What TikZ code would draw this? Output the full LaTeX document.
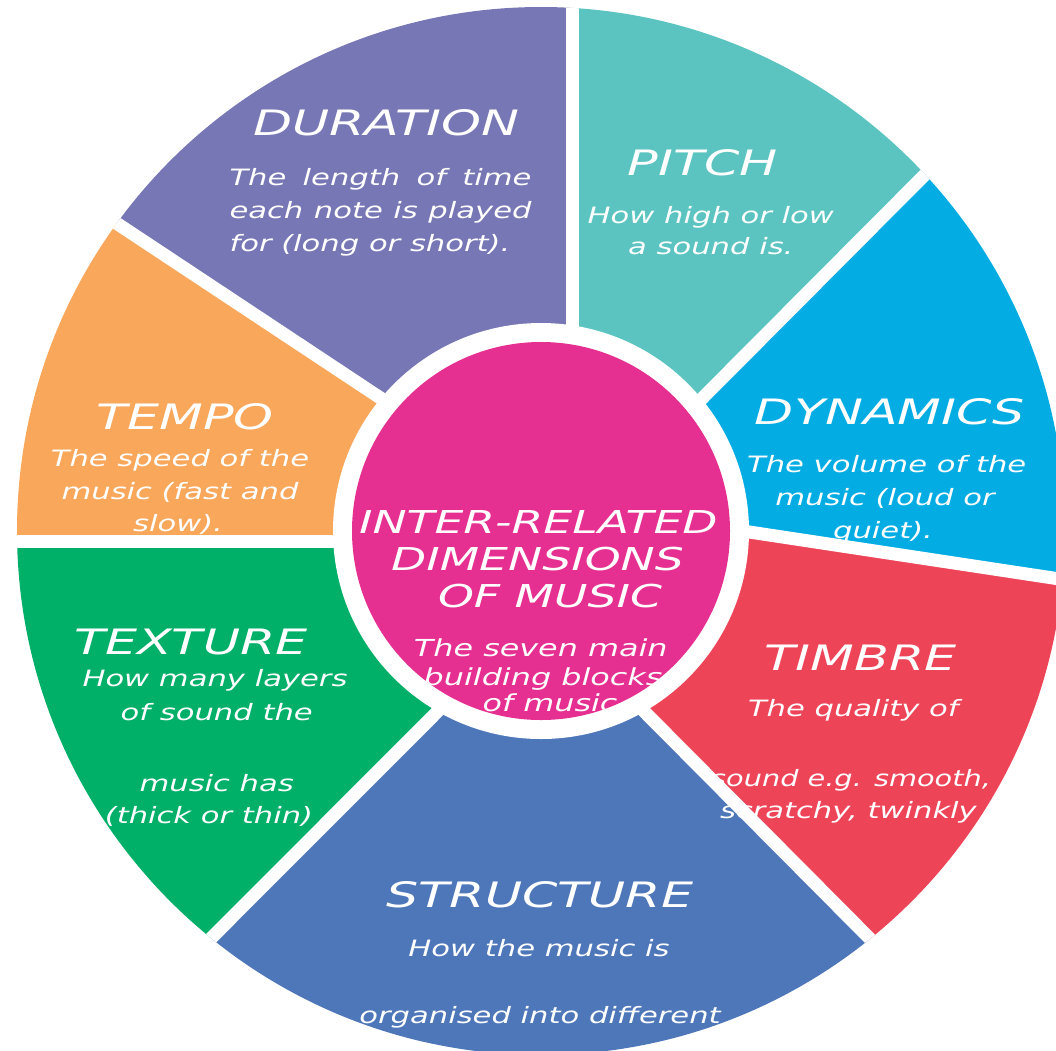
\documentclass[tikz,border=0pt]{standalone}
\usepackage{fontspec}
\newfontfamily\lbl[FakeStretch=1.45]{DejaVu Sans}
\newfontfamily\lblb[FakeStretch=1.36]{DejaVu Sans}
\usetikzlibrary{calc}

\definecolor{durationc}{HTML}{7777B6}
\definecolor{pitchc}{HTML}{5BC4C1}
\definecolor{dynamicsc}{HTML}{04ACE4}
\definecolor{timbrec}{HTML}{EE4458}
\definecolor{structurec}{HTML}{4E77BA}
\definecolor{texturec}{HTML}{00AF68}
\definecolor{tempoc}{HTML}{F9A75B}
\definecolor{hubc}{HTML}{E63091}

\tikzset{
  gapline/.style={draw=white, line width=13pt},
  title/.style={text=white, inner sep=0pt, anchor=base,
    font=\lbl\itshape\fontsize{35}{41}\selectfont},
  body/.style={text=white, inner sep=0pt, anchor=base,
    font=\lblb\itshape\fontsize{22.5}{27}\selectfont},
  hubtitle/.style={text=white, inner sep=0pt, anchor=base,
    font=\lbl\itshape\fontsize{31.5}{37}\selectfont},
  hubbody/.style={text=white, inner sep=0pt, anchor=base,
    font=\lblb\itshape\fontsize{23.4}{28}\selectfont},
}

\begin{document}
\begin{tikzpicture}[x=1pt,y=-1pt]
\useasboundingbox (0,0) rectangle (1056,1050);
\clip (0,0) rectangle (1056,1050);

\coordinate (c) at (541,531);
% dividing lines: inner end (hidden under the ring) and far end (outside the wheel)
\coordinate (g1i) at (572.5,531);   \coordinate (g1o) at (572.5,-269);
\coordinate (g2i) at (576.5,524.6); \coordinate (g2o) at (1141,-42.4);
\coordinate (g3i) at (551.3,502);   \coordinate (g3o) at (1391.7,629.3);
\coordinate (g4i) at (539.5,606.1); \coordinate (g4o) at (1103.3,1173.6);
\coordinate (g5i) at (542,606.9);   \coordinate (g5o) at (-23.4,1173);
\coordinate (g6i) at (541,541.7);   \coordinate (g6o) at (-259,541.7);
\coordinate (g7i) at (512.4,485.4); \coordinate (g7o) at (-154.6,43.6);

\begin{scope}
  \clip (c) circle[radius=524pt];

  % coloured segments
  \fill[durationc]  (g7i) -- (g7o) -- (g1o) -- (g1i) -- cycle;
  \fill[pitchc]     (g1i) -- (g1o) -- (g2o) -- (g2i) -- cycle;
  \fill[dynamicsc]  (g2i) -- (g2o) -- (g3o) -- (g3i) -- cycle;
  \fill[timbrec]    (g3i) -- (g3o) -- (g4o) -- (g4i) -- cycle;
  \fill[tempoc]     (g7i) -- (g7o) -- (g6o) -- (g6i) -- cycle;
  \fill[texturec]   (g6i) -- (g6o) -- (g5o) -- (g5i) -- cycle;
  \fill[structurec] (g5i) -- (g5o) -- (g4o) -- (g4i) -- cycle;

  % DURATION
  \node[title] (durT) at (386.5,135.7) {DURATION};
  \node[body, anchor=base west] (durA) at (229.3,185) {\makebox[302pt][s]{The length of time}};
  \node[body, anchor=base west] (durB) at (229.3,218.3) {\makebox[302pt][s]{each note is played}};
  \node[body, anchor=base west] (durC) at (229.3,251.7) {for (long or short).};

  % PITCH
  \node[title] (pitT) at (702.5,175) {PITCH};
  \node[body] (pitA) at (710.8,223.3) {How high or low};
  \node[body] (pitB) at (710.8,254) {a sound is.};

  % DYNAMICS
  \node[title] (dynT) at (890,424.3) {DYNAMICS};
  \node[body] (dynA) at (886.7,472.3) {The volume of the};
  \node[body] (dynB) at (885,505.7) {music (loud or};
  \node[body] (dynC) at (883,538.3) {quiet).};

  % TIMBRE
  \node[title] (timT) at (860.8,670) {TIMBRE};
  \node[body] (timA) at (853.3,716.7) {The quality of};
  \node[body, anchor=base west] (timB) at (711,786.7) {\scalebox{0.94}[1]{sound e.g. smooth,}};
  \node[body, anchor=base east] (timC) at (977,818.3) {scratchy, twinkly};

  % TEMPO
  \node[title] (temT) at (185,429.3) {TEMPO};
  \node[body] (temA) at (180,466.7) {The speed of the};
  \node[body] (temB) at (180,499.3) {music (fast and};
  \node[body] (temC) at (178,531.7) {slow).};

  % TEXTURE
  \node[title] (texT) at (190.8,654) {TEXTURE};
  \node[body] (texA) at (215,686.7) {How many layers};
  \node[body] (texB) at (216.7,720) {of sound the};
  \node[body] (texC) at (216.7,791.7) {music has};
  \node[body] (texD) at (209,823.3) {(thick or thin)};

  % STRUCTURE
  \node[title] (strT) at (540,907.7) {STRUCTURE};
  \node[body] (strA) at (539,956.7) {How the music is};
  \node[body] (strB) at (540,1023.3) {organised into different};

  % white gaps between the segments
  \foreach \g in {1,...,7}{
    \draw[gapline] (g\g i) -- (g\g o);
  }
\end{scope}

% central hub
\node[circle, fill=white, draw=none, inner sep=0pt, minimum size=416pt] (ring) at (c) {};
\node[circle, fill=hubc, draw=none, inner sep=0pt, minimum size=378pt] (hub) at (c) {};
\begin{scope}
  \clip (c) circle[radius=189pt];
  \node[hubtitle] (hubA) at (538.3,533.3) {INTER-RELATED};
  \node[hubtitle] (hubB) at (537.5,570.7) {DIMENSIONS};
  \node[hubtitle] (hubC) at (550,607.3) {OF MUSIC};
  \node[hubbody] (hubD) at (540.8,656.7) {The seven main};
  \node[hubbody] (hubE) at (543,685) {building blocks};
  \node[hubbody] (hubF) at (550,711.7) {of music};
\end{scope}
\end{tikzpicture}
\end{document}
